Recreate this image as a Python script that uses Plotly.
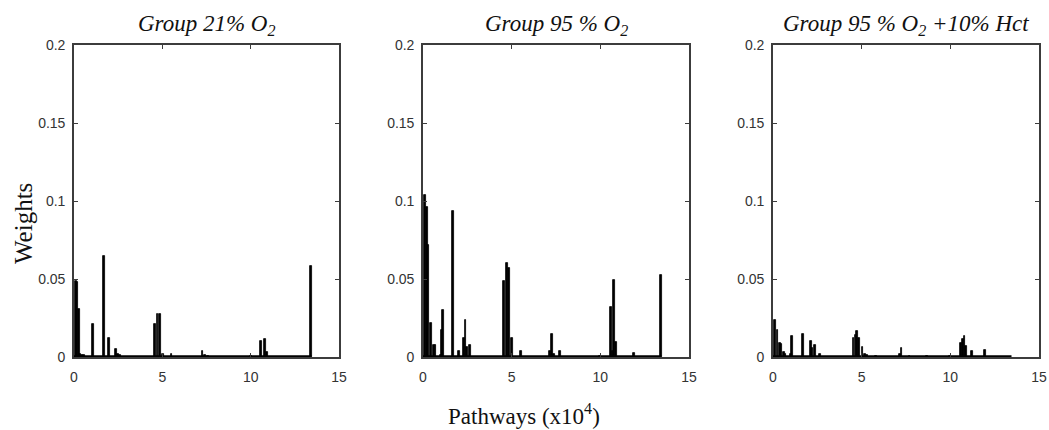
import plotly.graph_objects as go

# Pathway positions (x10^4) and weights for each group
g21_x = [0.11, 0.19, 0.28, 0.36, 0.45, 0.55, 1.09, 1.68, 1.98, 2.36, 2.5, 2.62,
         4.58, 4.73, 4.85, 5.05, 5.52, 7.27, 7.42, 7.58, 10.0, 10.59, 10.82, 10.93, 13.43]
g21_y = [0.049, 0.048, 0.031, 0.002, 0.0015, 0.001, 0.021, 0.065, 0.0125, 0.0054, 0.002, 0.0012,
         0.021, 0.0276, 0.0276, 0.002, 0.002, 0.0039, 0.001, 0.0008, 0.0005, 0.0103, 0.0118, 0.003, 0.0586]

g95_x = [0.13, 0.22, 0.3, 0.45, 0.6, 0.7, 1.03, 1.07, 1.13, 1.69, 2.01, 2.31, 2.39, 2.48, 2.63,
         4.57, 4.72, 4.85, 5.04, 5.51, 7.16, 7.27, 7.37, 7.71, 10.0, 10.58, 10.68, 10.79, 10.9,
         11.9, 13.4]
g95_y = [0.1036, 0.096, 0.072, 0.022, 0.008, 0.008, 0.001, 0.017, 0.0303, 0.0934, 0.004, 0.0124,
         0.024, 0.0064, 0.008, 0.049, 0.060, 0.057, 0.012, 0.004, 0.004, 0.0145, 0.002, 0.004,
         0.0005, 0.032, 0.004, 0.0496, 0.0096, 0.0028, 0.0528]

ghct_x = [0.1, 0.25, 0.38, 0.45, 0.6, 0.7, 1.02, 1.09, 1.67, 2.14, 2.22, 2.35, 2.65,
          4.54, 4.65, 4.75, 4.84, 5.05, 5.18, 5.3, 5.8, 7.14, 7.25, 7.7, 8.67, 10.0,
          10.6, 10.7, 10.8, 10.88, 11.24, 11.96]
ghct_y = [0.0235, 0.0175, 0.009, 0.0085, 0.003, 0.002, 0.002, 0.0132, 0.015, 0.010, 0.006, 0.008,
          0.002, 0.0122, 0.0143, 0.0165, 0.012, 0.0064, 0.002, 0.001, 0.0005, 0.002, 0.0058,
          0.0008, 0.0005, 0.0005, 0.009, 0.0115, 0.0132, 0.0068, 0.004, 0.0043]

pathway_span = [0, 13.45]          # extent of the pathway index (x10^4)
baseline_weight = [0.0004, 0.0004]  # residual weight of the remaining pathways

titles = ["Group 21% O<sub>2</sub>",
          "Group 95 % O<sub>2</sub>",
          "Group 95 % O<sub>2</sub> +10% Hct"]
x_ticks = [0, 5, 10, 15]
y_ticks = [0, 0.05, 0.1, 0.15, 0.2]
y_tick_text = ["0", "0.05", "0.1", "0.15", "0.2"]

W, H = 1049, 430
panels_px = [(74, 339), (423, 689), (773, 1039)]
y_dom = [1 - 357 / H, 1 - 45 / H]

fig = go.Figure()
series = [(g21_x, g21_y), (g95_x, g95_y), (ghct_x, ghct_y)]

axis_color = "#3c3c3c"
tick_font = dict(family="Liberation Sans, Arial", size=14, color="#333333")
serif = "Liberation Serif, Times New Roman"

for i, ((xs, ys), (x0, x1)) in enumerate(zip(series, panels_px)):
    n = "" if i == 0 else str(i + 1)
    xa, ya = "x" + n, "y" + n
    fig.add_trace(go.Scatter(x=pathway_span, y=baseline_weight, mode="lines",
                             line=dict(color="black", width=2.5),
                             xaxis=xa, yaxis=ya, showlegend=False, hoverinfo="skip"))
    fig.add_trace(go.Bar(x=xs, y=ys, width=0.1,
                         marker=dict(color="black", line=dict(width=0.8, color="black")),
                         xaxis=xa, yaxis=ya, showlegend=False))
    common = dict(ticks="inside", ticklen=4, tickcolor=axis_color,
                  showline=True, linecolor=axis_color, linewidth=1.6, mirror="ticks",
                  showgrid=False, zeroline=False, tickfont=tick_font, automargin=False)
    fig.layout["xaxis" + n] = dict(domain=[x0 / W, x1 / W], range=[0, 15], tickvals=x_ticks,
                                  anchor=ya, ticklabelstandoff=6, **common)
    fig.layout["yaxis" + n] = dict(domain=y_dom, range=[0, 0.2], tickvals=y_ticks,
                                  ticktext=y_tick_text, anchor=xa, ticklabelstandoff=4, **common)
    fig.add_annotation(text="<i>" + titles[i] + "</i>", x=(x0 + x1) / 2 / W, y=1 - 25 / H,
                       xref="paper", yref="paper", xanchor="center", yanchor="middle",
                       showarrow=False, font=dict(family=serif, size=23, color="#111111"))

fig.add_annotation(text="Weights", x=23 / W, y=1 - 224 / H, xref="paper", yref="paper",
                   xanchor="center", yanchor="middle", textangle=-90, showarrow=False,
                   font=dict(family=serif, size=25, color="#111111"))
fig.add_annotation(text="Pathways (x10<sup>4</sup>)", x=524 / W, y=1 - 414 / H,
                   xref="paper", yref="paper", xanchor="center", yanchor="middle",
                   showarrow=False, font=dict(family=serif, size=23, color="#111111"))

fig.update_layout(width=W, height=H, margin=dict(l=0, r=0, t=0, b=0),
                  plot_bgcolor="white", paper_bgcolor="white", bargap=0)

fig.write_html("out.html")
